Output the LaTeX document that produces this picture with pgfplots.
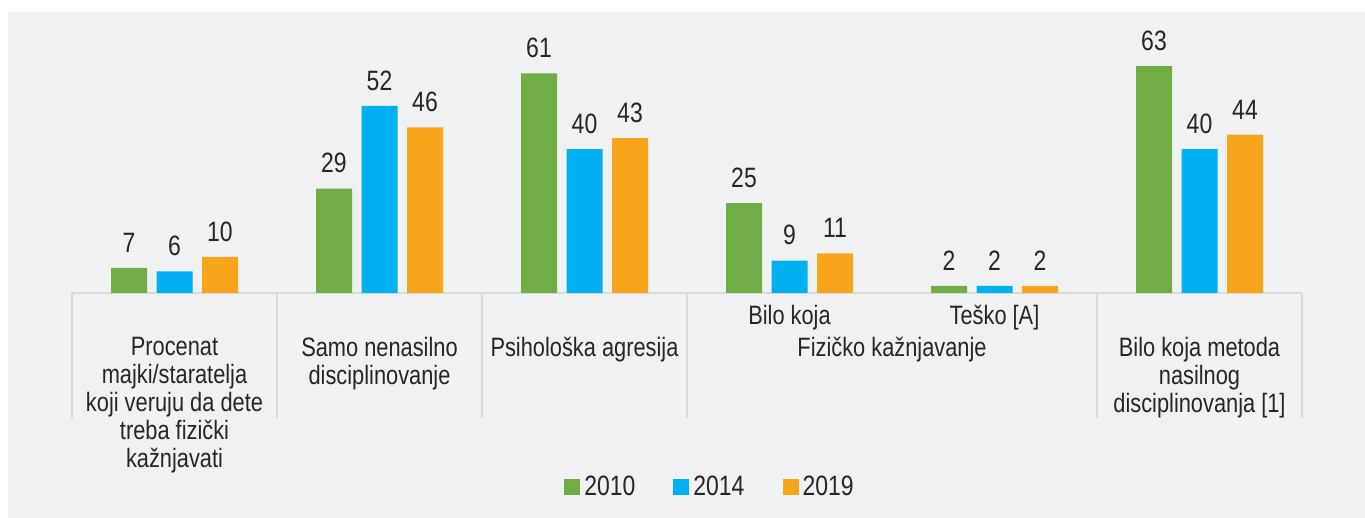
\documentclass[border=0pt]{standalone}
\usepackage{fontspec}
\setmainfont{Liberation Sans}[FakeStretch=0.82]
\usepackage{pgfplots}
\pgfplotsset{compat=1.18}
\definecolor{bg}{RGB}{240,241,243}
\definecolor{sep}{RGB}{217,217,217}
\definecolor{txt}{RGB}{38,38,38}
\definecolor{cg}{RGB}{112,173,71}
\definecolor{cb}{RGB}{0,176,240}
\definecolor{co}{RGB}{249,165,27}
\begin{document}
\begin{tikzpicture}
\fill[white] (-36pt,-112.5pt) rectangle (646.5pt,146.5pt);
\fill[bg] (-32pt,-112.5pt) rectangle (646.5pt,140.5pt);
\begin{axis}[
  at={(0,0)}, anchor=south west,
  scale only axis, width=615pt, height=140.5pt,
  xmin=-0.5, xmax=5.5, ymin=0, ymax=78.06,
  enlargelimits=false,
  ybar=4.75pt, bar width=18pt,
  axis x line*=bottom, hide y axis,
  x axis line style={draw=sep, line width=1pt},
  xtick={0,1,2,5},
  xticklabels={{Procenat\\majki/staratelja\\koji veruju da dete\\treba fizički\\kažnjavati},
               {Samo nenasilno\\disciplinovanje},
               {Psihološka agresija},
               {Bilo koja metoda\\nasilnog\\disciplinovanja [1]}},
  xtick style={draw=none}, major tick length=0pt,
  xticklabel style={font=\fontsize{13.3}{14}\selectfont, text=txt, align=center, anchor=north, inner sep=0pt, yshift=-21.7pt},
  extra x ticks={3,4},
  extra x tick labels={Bilo koja, Teško [A]},
  extra x tick style={xticklabel style={yshift=16pt}},
  nodes near coords,
  nodes near coords style={font=\fontsize{14}{16}\selectfont, text=txt, anchor=south, inner sep=0pt, yshift=7.5pt},
  /pgf/number format/assume math mode=true,
  legend columns=3,
  legend style={at={(0.5195,-0.69)}, anchor=center, draw=none, fill=none,
    font=\fontsize{14}{16}\selectfont, text=txt,
    /tikz/every even column/.append style={column sep=17pt}},
  legend image code/.code={\fill[#1] (0pt,-4pt) rectangle (8pt,4pt);},
  clip=false,
]
\addplot[fill=cg, draw=none] coordinates {(0,7) (1,29) (2,61) (3,25) (4,2) (5,63)};
\addplot[fill=cb, draw=none] coordinates {(0,6) (1,52) (2,40) (3,9) (4,2) (5,40)};
\addplot[fill=co, draw=none] coordinates {(0,10) (1,46) (2,43) (3,11) (4,2) (5,44)};
\legend{2010,2014,2019}
\pgfplotsinvokeforeach{-0.5,0.5,1.5,2.5,4.5,5.5}{
  \draw[sep, line width=1pt] (axis cs:#1,0) -- ++(0pt,-62.5pt);
}
\node[font=\fontsize{13.3}{14}\selectfont, text=txt, anchor=north, inner sep=0pt, yshift=-21.7pt] at (axis cs:3.5,0) {Fizičko kažnjavanje};
\end{axis}
\pgfresetboundingbox
\path[use as bounding box] (-36pt,-112.5pt) rectangle (646.5pt,146.5pt);
\end{tikzpicture}
\end{document}
